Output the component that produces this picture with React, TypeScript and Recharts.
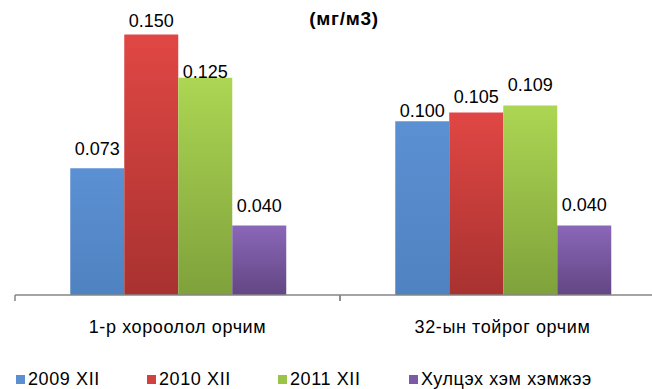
import { BarChart, Bar, XAxis, YAxis, LabelList } from "recharts";

const categories = ["1-р хороолол орчим", "32-ын тойрог орчим"];
const seriesNames = ["2009 XII", "2010 XII", "2011 XII", "Хулцэх хэм хэмжээ"];
const values2009 = [0.073, 0.1];
const values2010 = [0.15, 0.105];
const values2011 = [0.125, 0.109];
const valuesLimit = [0.04, 0.04];

const data = categories.map((name, i) => ({
  name,
  s2009: values2009[i],
  s2010: values2010[i],
  s2011: values2011[i],
  limit: valuesLimit[i],
}));

const FONT = "'Liberation Sans', Arial, sans-serif";

const series = [
  { key: "s2009", name: seriesNames[0], top: "#5b90d3", bottom: "#4f82c0", swatch: "#5b8fd0", gaps: [13, 4] },
  { key: "s2010", name: seriesNames[1], top: "#e04744", bottom: "#a83230", swatch: "#d2413e", gaps: [7, 10] },
  { key: "s2011", name: seriesNames[2], top: "#acd653", bottom: "#7fa13b", swatch: "#9bc348", gaps: [0, 15] },
  { key: "limit", name: seriesNames[3], top: "#8a67b8", bottom: "#634683", swatch: "#7b5aa6", gaps: [14, 15] },
];

const CategoryTick = (props: any) => {
  const { x, y, payload, width } = props;
  const band = (width || 650) / categories.length;
  const axisY = y - 8;
  return (
    <g>
      <line x1={x - band / 2} y1={axisY} x2={x - band / 2} y2={axisY + 6} stroke="#868686" strokeWidth={1.5} />
      <line x1={x + band / 2} y1={axisY} x2={x + band / 2} y2={axisY + 6} stroke="#868686" strokeWidth={1.5} />
      <text x={x} y={y + 30} textAnchor="middle" fontSize={18} letterSpacing={0.6} fontFamily={FONT} fill="#000">
        {payload.value}
      </text>
    </g>
  );
};

const makeLabel = (gaps: number[]) => (props: any) => {
  const { x, y, width, value, index } = props;
  const gap = gaps[index ?? 0] ?? 14;
  return (
    <text x={x + width / 2} y={y - gap} textAnchor="middle" fontSize={18} fontFamily={FONT} fill="#000">
      {Number(value).toFixed(3)}
    </text>
  );
};

export default function App() {
  return (
    <div
      style={{
        position: "absolute",
        left: 0,
        top: 0,
        width: 652,
        height: 389,
        overflow: "hidden",
        background: "#fff",
        fontFamily: FONT,
      }}
    >
      <BarChart
        width={680}
        height={389}
        data={data}
        margin={{ top: 17, right: 15, left: 15, bottom: 0 }}
        barCategoryGap="17%"
        barGap={0}
      >
        <defs>
          {series.map(s => (
            <linearGradient key={s.key} id={`grad-${s.key}`} x1="0" y1="0" x2="0" y2="1">
              <stop offset="0%" stopColor={s.top} />
              <stop offset="100%" stopColor={s.bottom} />
            </linearGradient>
          ))}
        </defs>
        <text x={344} y={25} textAnchor="middle" fontSize={19} fontWeight={700} letterSpacing={0.7} fontFamily={FONT} fill="#000">
          (мг/м3)
        </text>
        <XAxis
          dataKey="name"
          height={94}
          axisLine={{ stroke: "#868686", strokeWidth: 1.5 }}
          tickLine={false}
          tickSize={6}
          tickMargin={2}
          tick={<CategoryTick />}
          interval={0}
        />
        <YAxis hide domain={[0, 0.16]} />
        {series.map(s => (
          <Bar key={s.key} dataKey={s.key} name={s.name} fill={`url(#grad-${s.key})`} isAnimationActive={false}>
            <LabelList dataKey={s.key} content={makeLabel(s.gaps)} />
          </Bar>
        ))}
      </BarChart>
      <div
        style={{
          position: "absolute",
          top: 370,
          left: 16,
          display: "flex",
          fontSize: 18,
          lineHeight: "18px",
          letterSpacing: 0.6,
        }}
      >
        {series.map(s => (
          <div key={s.key} style={{ width: 131, flexShrink: 0, display: "flex", alignItems: "center", whiteSpace: "nowrap" }}>
            <span style={{ display: "inline-block", flexShrink: 0, width: 9, height: 9, background: s.swatch, marginRight: 3 }} />
            <span>{s.name}</span>
          </div>
        ))}
      </div>
    </div>
  );
}
